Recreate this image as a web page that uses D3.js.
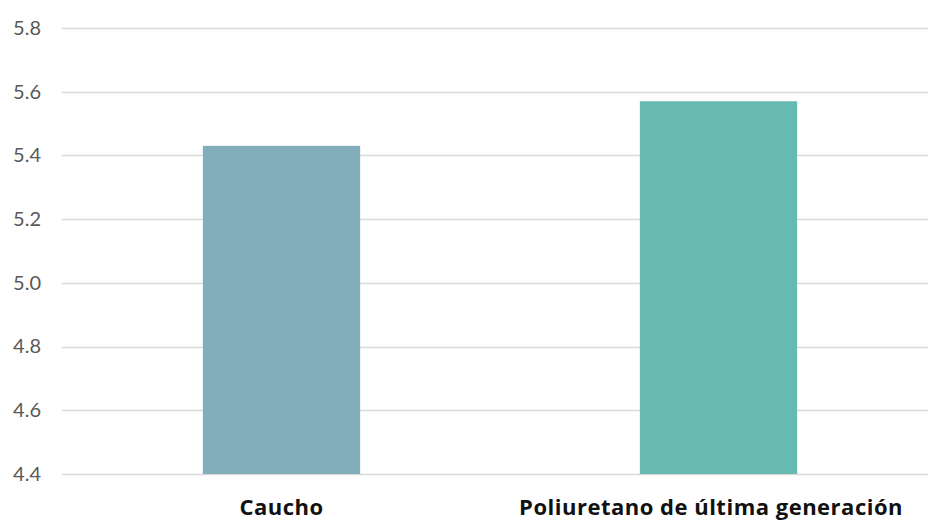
<!DOCTYPE html>
<html><head><meta charset="utf-8">
<script src="https://cdn.jsdelivr.net/npm/d3@7"></script>
<style>body{margin:0;background:#fff}svg{display:block}</style>
</head><body>
<svg id="c" width="928" height="520"></svg>
<script>
const categories = ["Caucho", "Poliuretano de última generación"];
const values = [5.43, 5.57];
const colors = ["#82AEBC", "#66BAB0"];
const yTicks = [4.4, 4.6, 4.8, 5.0, 5.2, 5.4, 5.6, 5.8];

const svg = d3.select("#c");
const x = d3.scaleBand().domain(categories).range([63, 937]);
const y = d3.scaleLinear().domain([4.4, 5.8]).range([474, 28]);

const grid = svg.append("g");
grid.selectAll("line").data(yTicks).join("line")
  .attr("x1", 62).attr("x2", 928)
  .attr("y1", d => Math.round(y(d)) + 0.5).attr("y2", d => Math.round(y(d)) + 0.5)
  .attr("stroke", "#d9d9d9").attr("stroke-width", 1.5);

const yAxis = d3.axisLeft(y).tickValues(yTicks).tickFormat(d3.format(".1f")).tickSize(0).tickPadding(0);
const ya = svg.append("g").attr("transform", "translate(41,0)").call(yAxis);
ya.select(".domain").remove();
ya.selectAll("text").attr("font-family", "Lato, 'Open Sans', sans-serif").attr("font-size", 20).attr("fill", "#595959");

const bw = x.bandwidth() * 0.36;
svg.append("g").selectAll("rect").data(categories).join("rect")
  .attr("x", d => x(d) + x.bandwidth() / 2 - bw / 2)
  .attr("width", bw)
  .attr("y", (d, i) => y(values[i]))
  .attr("height", (d, i) => y(4.4) - y(values[i]))
  .attr("fill", (d, i) => colors[i]);

const xAxis = d3.axisBottom(x).tickSize(0).tickPadding(0);
const xa = svg.append("g").attr("transform", "translate(0,0)").call(xAxis);
xa.select(".domain").remove();
xa.selectAll("text").attr("y", 515).attr("dy", 0)
  .attr("font-family", "'Open Sans', sans-serif").attr("font-size", 22).attr("font-weight", "bold")
  .attr("letter-spacing", 0.5).attr("fill", "#111")
  .each(function (d) {
    // keep labels inside the visible area with a small right margin
    const w = this.getComputedTextLength();
    const cx = x(d) + x.bandwidth() / 2;
    const over = cx + w / 2 - 903;
    if (over > 0) d3.select(this.parentNode).attr("transform", `translate(${cx - over},0)`);
  });
</script>
</body></html>
